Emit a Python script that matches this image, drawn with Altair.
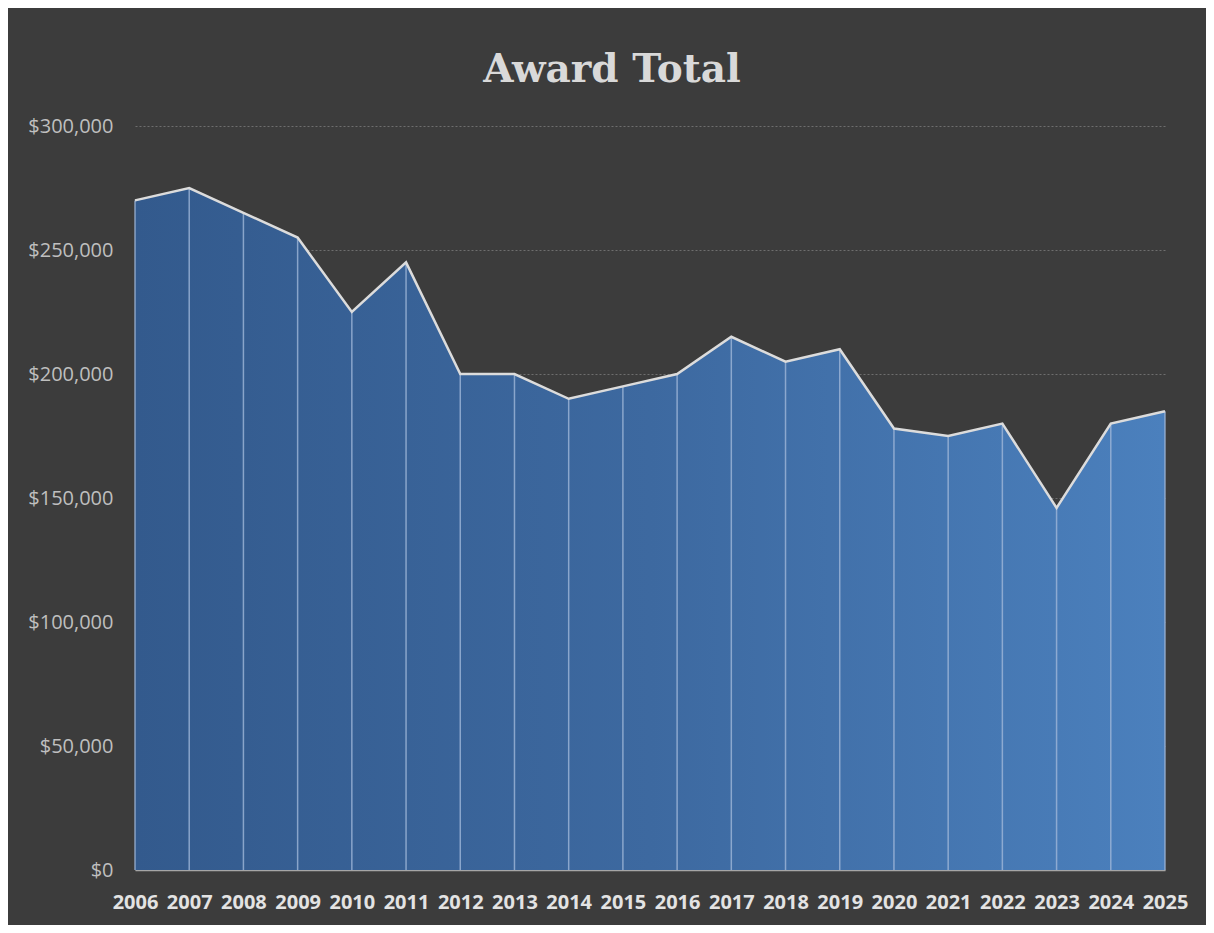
import altair as alt
import pandas as pd

years = [2006, 2007, 2008, 2009, 2010, 2011, 2012, 2013, 2014, 2015,
         2016, 2017, 2018, 2019, 2020, 2021, 2022, 2023, 2024, 2025]
award_totals = [270000, 275000, 265000, 255000, 225000, 245000, 200000, 200000,
                190000, 195000, 200000, 215000, 205000, 210000, 178000, 175000,
                180000, 146000, 180000, 185000]
y_ticks = [0, 50000, 100000, 150000, 200000, 250000, 300000]

df = pd.DataFrame({"Year": years, "Award": award_totals})

x_enc = alt.X(
    "Year:Q",
    scale=alt.Scale(domain=[years[0], years[-1]], nice=False, zero=False),
    axis=alt.Axis(
        values=years, format="d", title=None, grid=False, ticks=False,
        domain=True, domainColor="#a6a6a6", domainWidth=1.5,
        labelColor="#e3e3e3", labelFont="Open Sans", labelFontSize=20,
        labelFontWeight="bold", labelPadding=22, labelFlush=False,
        labelOverlap=False,
    ),
)
y_enc = alt.Y(
    "Award:Q",
    scale=alt.Scale(domain=[0, 300000], nice=False),
    axis=alt.Axis(
        values=y_ticks, format="$,.0f", title=None, ticks=False, domain=False,
        grid=True, gridColor="#6e6e6e", gridDash=[2, 2], gridWidth=1,
        labelColor="#bfbfbf", labelFont="Open Sans", labelFontSize=20,
        labelPadding=22,
    ),
)

gradient = alt.Gradient(
    gradient="linear",
    stops=[
        alt.GradientStop(color="#335a8d", offset=0),
        alt.GradientStop(color="#3d69a0", offset=0.5),
        alt.GradientStop(color="#4b80bd", offset=1),
    ],
    x1=0, x2=1, y1=0, y2=0,
)

base = alt.Chart(df)

area = base.mark_area(color=gradient, opacity=1).encode(x=x_enc, y=y_enc)

drops = base.mark_rule(color="#9fb6d8", strokeWidth=1.5, opacity=0.8).encode(
    x="Year:Q", y="Award:Q", y2=alt.datum(0)
)

line = base.mark_line(color="#dcdcdc", strokeWidth=2.5).encode(
    x="Year:Q", y="Award:Q"
)

chart = (
    alt.layer(area, drops, line)
    .properties(
        width=1030,
        height=744,
        autosize=alt.AutoSizeParams(type="none"),
        padding={"left": 127, "top": 118, "right": 41, "bottom": 55},
        background="#3c3c3c",
        title=alt.TitleParams(
            text="Award Total", font="DejaVu Serif", fontSize=39,
            fontWeight="bold", color="#d9d9d9", anchor="middle",
            baseline="alphabetic", offset=-5, dx=-38,
        ),
    )
    .configure_view(stroke=None)
)

chart.save("out.html", embed_options={"renderer": "svg", "actions": False})
